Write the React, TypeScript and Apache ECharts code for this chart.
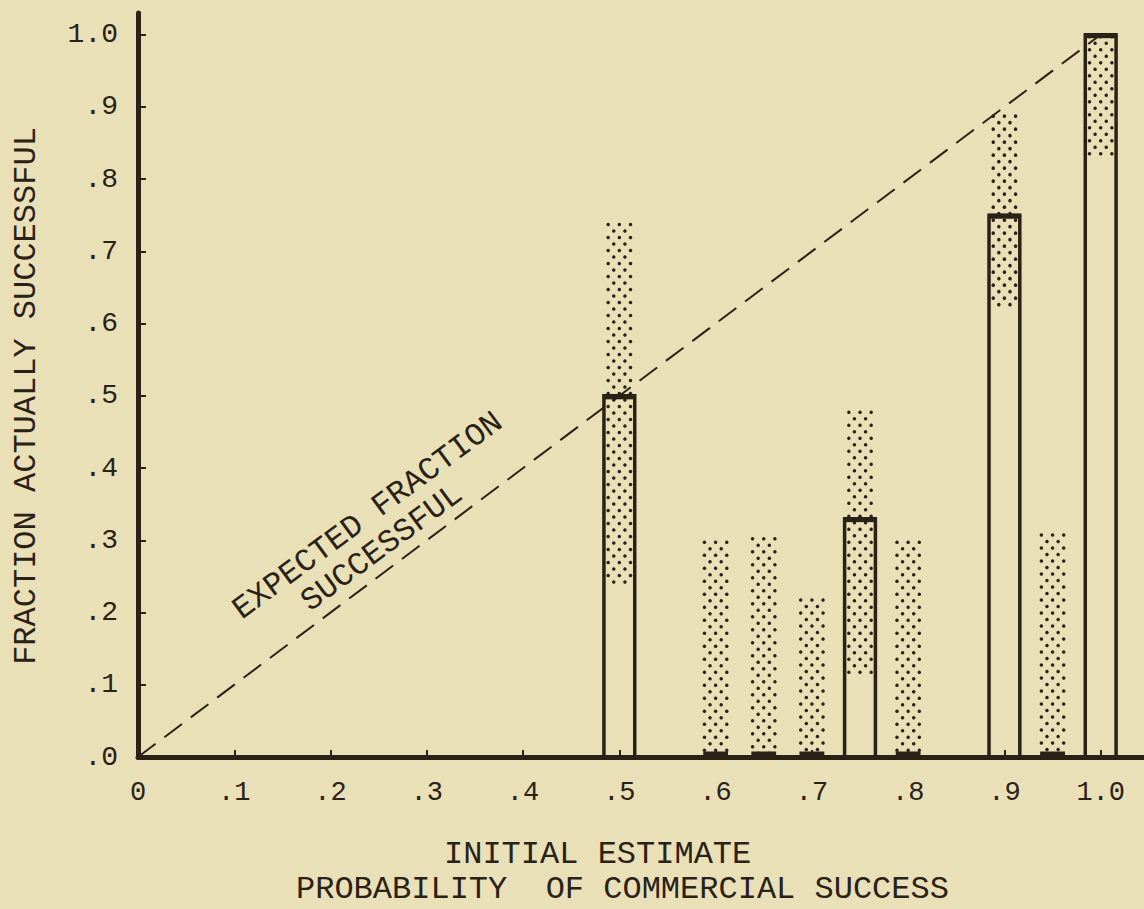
import React, { useEffect, useRef } from "react";
import * as echarts from "echarts";

// ---- Data ----
const estimates = [0.5, 0.6, 0.65, 0.7, 0.75, 0.8, 0.9, 0.95, 1.0];
const actualFraction = [0.5, 0, 0, 0, 0.33, 0, 0.75, 0, 1.0];
const rangeLow = [0.24, 0, 0, 0, 0.11, 0, 0.62, 0, 0.83];
const rangeHigh = [0.74, 0.3, 0.305, 0.22, 0.48, 0.3, 0.89, 0.31, 1.0];
const tickValues = [0, 0.1, 0.2, 0.3, 0.4, 0.5, 0.6, 0.7, 0.8, 0.9, 1.0];
const xTickLabels = ["0", ".1", ".2", ".3", ".4", ".5", ".6", ".7", ".8", ".9", "1.0"];
const yTickLabels = [".0", ".1", ".2", ".3", ".4", ".5", ".6", ".7", ".8", ".9", "1.0"];
const expectedLine = [
  [0, 0],
  [1, 1],
];

const INK = "#2a2117";
const PAPER = "#e9e0b8";
const FONT = "'Liberation Mono', 'DejaVu Sans Mono', monospace";
const BAR_HALF = 0.016;
const DOT_HALF = 0.0145;
const ROW_STEP = 6.5;

export default function App() {
  const ref = useRef<HTMLDivElement>(null);

  useEffect(() => {
    if (!ref.current) return;
    const chart = echarts.init(ref.current, undefined, { renderer: "svg" });

    const labelFor = (labels: string[]) => (v: number) => {
      const i = Math.round(v * 10);
      return Math.abs(v * 10 - i) < 1e-6 && i >= 0 && i < labels.length ? labels[i] : "";
    };

    const option: any = {
      animation: false,
      backgroundColor: PAPER,
      grid: { left: 138, right: 0, top: 13, bottom: 152, containLabel: false },
      xAxis: {
        type: "value",
        min: 0,
        max: 1.045,
        interval: 0.1,
        splitLine: { show: false },
        axisLine: { show: true, onZero: false, lineStyle: { color: INK, width: 5 } },
        axisTick: {
          show: true,
          inside: true,
          length: 7,
          customValues: tickValues,
          lineStyle: { color: INK, width: 2 },
        },
        axisLabel: {
          customValues: tickValues,
          formatter: labelFor(xTickLabels),
          color: INK,
          fontFamily: FONT,
          fontSize: 27,
          margin: 22,
        },
      },
      yAxis: {
        type: "value",
        min: 0,
        max: 1.03,
        interval: 0.1,
        splitLine: { show: false },
        axisLine: { show: true, onZero: false, lineStyle: { color: INK, width: 5 } },
        axisTick: {
          show: true,
          inside: true,
          length: 8,
          customValues: tickValues,
          lineStyle: { color: INK, width: 2 },
        },
        axisLabel: {
          customValues: tickValues,
          formatter: labelFor(yTickLabels),
          color: INK,
          fontFamily: FONT,
          fontSize: 28,
          margin: 20,
        },
      },
      series: [
        {
          type: "line",
          name: "Expected",
          data: expectedLine,
          symbol: "none",
          z: 1,
          lineStyle: { color: INK, width: 2, type: [22, 11] },
        },
        {
          type: "custom",
          name: "Range",
          clip: false,
          z: 2,
          data: estimates.map((x, i) => [x, rangeLow[i], rangeHigh[i]]),
          renderItem: (_params: any, api: any) => {
            const x = api.value(0);
            const lo = api.value(1);
            const hi = api.value(2);
            const p1 = api.coord([x - DOT_HALF, hi]);
            const p2 = api.coord([x + DOT_HALF, lo]);
            const left = p1[0];
            const w = p2[0] - p1[0];
            const children: any[] = [];
            let row = 0;
            for (let y = p1[1] + 2; y <= p2[1] - 1; y += ROW_STEP, row++) {
              const cols = row % 2 === 0 ? [0.1, 0.5, 0.9] : [0.3, 0.7];
              for (const f of cols) {
                children.push({
                  type: "circle",
                  shape: { cx: left + f * w, cy: y, r: 1.75 },
                  style: { fill: INK },
                });
              }
            }
            return { type: "group", children };
          },
        },
        {
          type: "custom",
          name: "Actual",
          clip: false,
          z: 3,
          data: estimates.map((x, i) => [x, actualFraction[i]]),
          renderItem: (_params: any, api: any) => {
            const x = api.value(0);
            const v = api.value(1);
            const p1 = api.coord([x - BAR_HALF, v]);
            const p2 = api.coord([x + BAR_HALF, 0]);
            const children: any[] = [];
            if (v > 0) {
              children.push({
                type: "rect",
                shape: { x: p1[0], y: p1[1], width: p2[0] - p1[0], height: p2[1] - p1[1] },
                style: { fill: "none", stroke: INK, lineWidth: 3.5 },
              });
              children.push({
                type: "line",
                shape: { x1: p1[0], y1: p1[1] + 1, x2: p2[0], y2: p1[1] + 1 },
                style: { stroke: INK, lineWidth: 5 },
              });
            } else {
              children.push({
                type: "line",
                shape: { x1: p1[0] + 3, y1: p1[1] - 3, x2: p2[0] - 3, y2: p1[1] - 3 },
                style: { stroke: INK, lineWidth: 5 },
              });
            }
            return { type: "group", children };
          },
        },
      ],
      graphic: [
        {
          type: "text",
          x: 26,
          y: 396,
          rotation: Math.PI / 2,
          style: {
            text: "FRACTION ACTUALLY SUCCESSFUL",
            fill: INK,
            font: `32px ${FONT}`,
            textAlign: "center",
            textVerticalAlign: "middle",
          },
        },
        {
          type: "text",
          x: 444,
          y: 854,
          style: {
            text: "INITIAL ESTIMATE",
            fill: INK,
            font: `32px ${FONT}`,
            textAlign: "left",
            textVerticalAlign: "middle",
          },
        },
        {
          type: "text",
          x: 296,
          y: 889,
          style: {
            text: "PROBABILITY  OF COMMERCIAL SUCCESS",
            fill: INK,
            font: `32px ${FONT}`,
            textAlign: "left",
            textVerticalAlign: "middle",
          },
        },
        {
          type: "text",
          x: 368,
          y: 516,
          rotation: (36.5 * Math.PI) / 180,
          style: {
            text: "EXPECTED FRACTION",
            fill: INK,
            font: `32px ${FONT}`,
            textAlign: "center",
            textVerticalAlign: "middle",
          },
        },
        {
          type: "text",
          x: 382,
          y: 548,
          rotation: (36.5 * Math.PI) / 180,
          style: {
            text: "SUCCESSFUL",
            fill: INK,
            font: `32px ${FONT}`,
            textAlign: "center",
            textVerticalAlign: "middle",
          },
        },
      ],
    };

    chart.setOption(option);
    return () => chart.dispose();
  }, []);

  return (
    <div
      ref={ref}
      style={{ position: "fixed", left: 0, top: 0, width: 1144, height: 909, background: PAPER }}
    />
  );
}
